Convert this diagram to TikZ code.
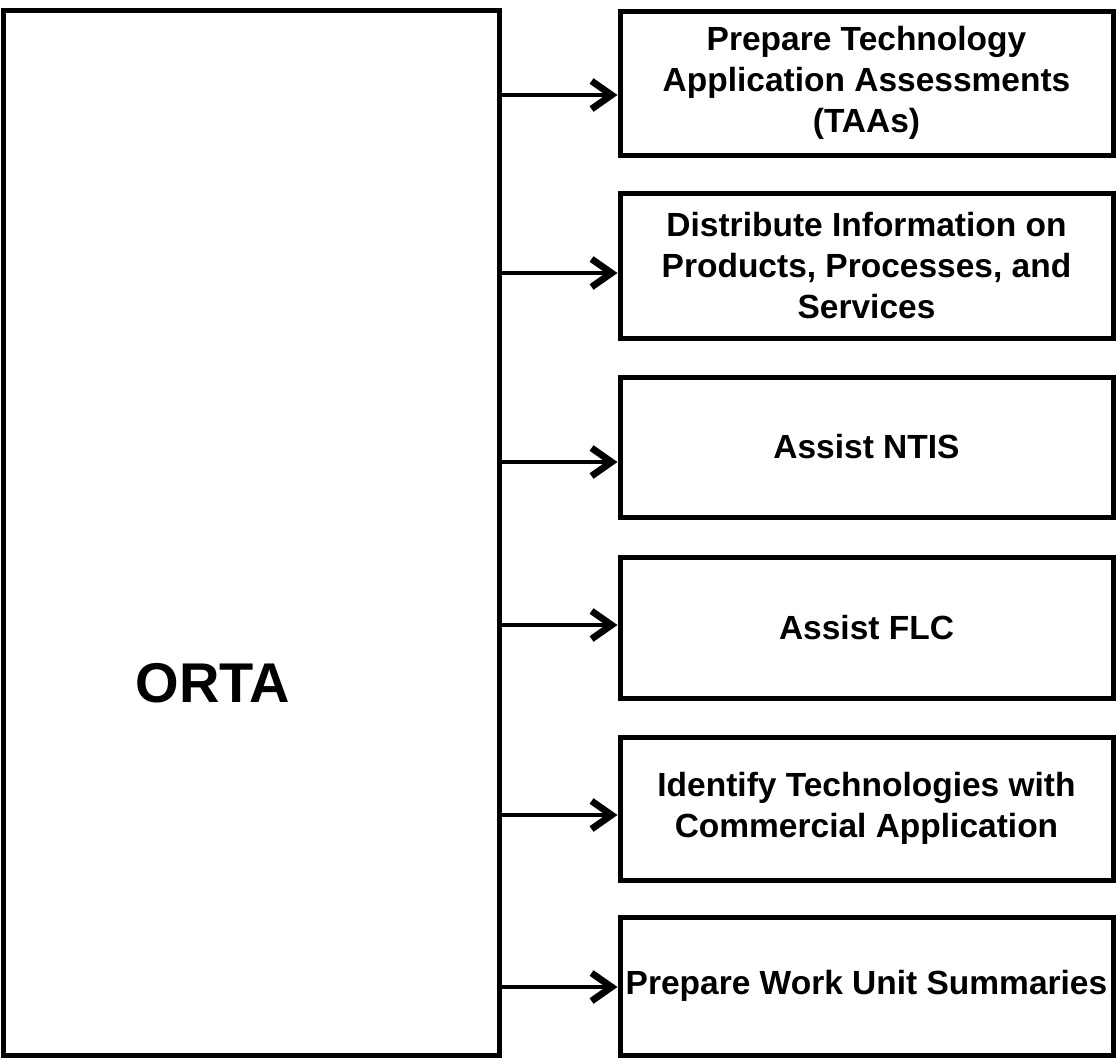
\documentclass[tikz,border=0pt]{standalone}
\usepackage{fontspec}
\setmainfont{Liberation Sans}
\usetikzlibrary{arrows.meta,positioning,calc}

\begin{document}
\begin{tikzpicture}[x=0.5pt,y=-0.5pt,
  boite/.style={draw,line width=2.5pt,minimum width=246.5pt,inner sep=0pt,
    align=center,font=\bfseries\fontsize{16.75}{20.5}\selectfont},
  fleche/.style={line width=2.2pt,-{Straight Barb[length=10pt,width=14pt,line width=3.4pt]}}]
  \useasboundingbox (0,0) rectangle (1116,1057);
  %% Bloc ORTA (gauche)
  \node[draw,line width=2.5pt,minimum width=248pt,minimum height=522.5pt,inner sep=0pt]
    (orta) at (251,532.5) {};
  \node[font=\bfseries\fontsize{28}{34}\selectfont] (titre) at (213,683) {ORTA};
  %% Taches (droite) et fleches
  \foreach \n/\yc/\dy/\h/\txt in {
    1/83/-6pt/72pt/{Prepare Technology\\Application Assessments\\(TAAs)},
    2/265.5/-3.75pt/72.5pt/{Distribute Information on\\Products, Processes, and\\Services},
    3/447/-7.5pt/70pt/{Assist NTIS},
    4/627.5/1.25pt/70.5pt/{Assist FLC},
    5/808.5/-3.25pt/71.5pt/{Identify Technologies with\\Commercial Application},
    6/986/-0.5pt/69pt/{Prepare Work Unit Summaries}}{
    \node[boite,minimum height=\h] (b\n) at (866.5,\yc) {\txt};
    \coordinate (p\n) at ([yshift=\dy]b\n.west);
    \draw[fleche] (p\n -| orta.east) -- (p\n);
  }
\end{tikzpicture}
\end{document}
